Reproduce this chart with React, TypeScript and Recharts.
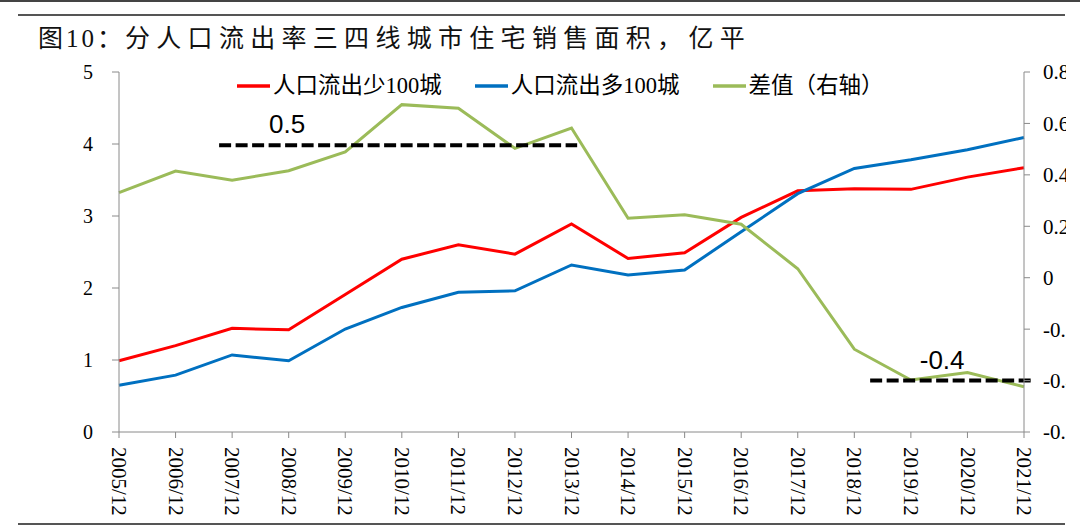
import React from 'react';
import { LineChart, Line, XAxis, YAxis, ReferenceLine, Legend } from 'recharts';

const categories = [
  '2005/12', '2006/12', '2007/12', '2008/12', '2009/12', '2010/12', '2011/12', '2012/12', '2013/12',
  '2014/12', '2015/12', '2016/12', '2017/12', '2018/12', '2019/12', '2020/12', '2021/12',
];
const lowOutflow = [0.99, 1.2, 1.44, 1.42, 1.91, 2.4, 2.6, 2.47, 2.89, 2.41, 2.49, 2.98, 3.35, 3.38, 3.37, 3.54, 3.67];
const highOutflow = [0.65, 0.79, 1.07, 0.99, 1.43, 1.73, 1.94, 1.96, 2.32, 2.18, 2.25, 2.78, 3.31, 3.66, 3.78, 3.92, 4.09];
const diffValues = [0.331, 0.415, 0.379, 0.416, 0.489, 0.673, 0.659, 0.503, 0.582, 0.231, 0.245, 0.208, 0.035, -0.278, -0.398, -0.369, -0.424];

const seriesNames = ['人口流出少100城', '人口流出多100城', '差值（右轴）'];
const seriesColors = ['#FF0000', '#0070C0', '#9BBB59'];

const leftTicks = [0, 1, 2, 3, 4, 5];
const rightTicks = [-0.6, -0.4, -0.2, 0, 0.2, 0.4, 0.6, 0.8];
const xTicks = categories.map((_, i) => i);

const guideHigh = { from: 1.77, to: 8.1, value: 0.515, label: '0.5' };
const guideLow = { from: 13.28, to: 16.12, value: -0.4, label: '-0.4' };

const title1 = '图10：';
const title2 = '分人口流出率三四线城市住宅销售面积，亿平';

const data = categories.map((c, i) => ({
  idx: i,
  cat: c,
  low: lowOutflow[i],
  high: highOutflow[i],
  diff: diffValues[i],
}));

const SERIF = '"Liberation Serif", "Times New Roman", serif';
const MIXED = '"Liberation Serif", "Noto Sans CJK SC", serif';
const AXIS = '#8a8a8a';

const XTick = (props: any) => {
  const { x, y, payload } = props;
  return (
    <text
      transform={`translate(${x},${y}) rotate(90)`}
      dy="0.33em"
      textAnchor="start"
      fontSize={21}
      fontFamily={SERIF}
      fill="#000"
    >
      {categories[payload.value]}
    </text>
  );
};

const makeGuideLabel = (text: string, ox: number, oy: number) => (props: any) => {
  const vb = props.viewBox || { x: 0, y: 0 };
  return (
    <text
      x={vb.x + ox}
      y={vb.y + oy}
      textAnchor="middle"
      dominantBaseline="central"
      fontFamily='"Liberation Sans", Arial, sans-serif'
      fontSize={26}
      fill="#000"
    >
      {text}
    </text>
  );
};

const LegendContent = (props: any) => {
  const payload = [...(props.payload || [])].sort(
    (a: any, b: any) => seriesNames.indexOf(a.value) - seriesNames.indexOf(b.value)
  );
  return (
    <div
      style={{
        display: 'flex',
        alignItems: 'center',
        fontFamily: MIXED,
        fontSize: 22.5,
        lineHeight: '30px',
        whiteSpace: 'nowrap',
        color: '#000',
      }}
    >
      {payload.map((p: any, i: number) => (
        <div key={i} style={{ display: 'flex', alignItems: 'center', marginRight: 33 }}>
          <svg width={33} height={4} style={{ display: 'block' }}>
            <line x1={0} y1={2} x2={33} y2={2} stroke={p.color} strokeWidth={3.5} />
          </svg>
          <span style={{ marginLeft: 3 }}>{p.value}</span>
        </div>
      ))}
    </div>
  );
};

export default function App() {
  return (
    <div style={{ position: 'absolute', left: 0, top: 0, width: 1080, height: 527, overflow: 'hidden', background: '#fff' }}>
      <LineChart width={1080} height={527} data={data} margin={{ top: 72, right: 0, bottom: 0, left: 0 }}>
        <XAxis
          type="number"
          dataKey="idx"
          domain={[0, 16]}
          ticks={xTicks}
          interval={0}
          height={95}
          stroke={AXIS}
          tickSize={6}
          tickMargin={9}
          tick={<XTick />}
        />
        <YAxis
          yAxisId="left"
          domain={[0, 5]}
          ticks={leftTicks}
          width={119}
          stroke={AXIS}
          tickSize={7}
          tickMargin={19}
          tick={{ fontSize: 20, fontFamily: SERIF, fill: '#000' }}
        />
        <YAxis
          yAxisId="right"
          orientation="right"
          domain={[-0.6, 0.8]}
          ticks={rightTicks}
          width={56}
          stroke={AXIS}
          tickSize={6}
          tickMargin={13}
          tickFormatter={(v: number) => (v === 0 ? '0' : v.toFixed(1))}
          tick={{ fontSize: 21, fontFamily: SERIF, fill: '#000', textAnchor: 'start' }}
        />
        <Legend
          verticalAlign="middle"
          align="center"
          layout="horizontal"
          wrapperStyle={{ top: 71, left: 237, width: 'auto', height: 30 }}
          content={LegendContent}
        />
        <Line yAxisId="left" dataKey="low" name={seriesNames[0]} stroke={seriesColors[0]} strokeWidth={3} dot={false} isAnimationActive={false} />
        <Line yAxisId="left" dataKey="high" name={seriesNames[1]} stroke={seriesColors[1]} strokeWidth={3} dot={false} isAnimationActive={false} />
        <Line yAxisId="right" dataKey="diff" name={seriesNames[2]} stroke={seriesColors[2]} strokeWidth={3} dot={false} isAnimationActive={false} />
        <ReferenceLine
          yAxisId="right"
          segment={[{ x: guideHigh.from, y: guideHigh.value }, { x: guideHigh.to, y: guideHigh.value }]}
          stroke="#000"
          strokeWidth={4}
          strokeDasharray="12 4.5"
          ifOverflow="visible"
          label={makeGuideLabel(guideHigh.label, 68, -21)}
        />
        <ReferenceLine
          yAxisId="right"
          segment={[{ x: guideLow.from, y: guideLow.value }, { x: guideLow.to, y: guideLow.value }]}
          stroke="#000"
          strokeWidth={4}
          strokeDasharray="12 4.5"
          ifOverflow="visible"
          label={makeGuideLabel(guideLow.label, 72, -21)}
        />
      </LineChart>
      <svg
        width={1080}
        height={527}
        style={{ position: 'absolute', left: 0, top: 0, pointerEvents: 'none' }}
      >
        <rect x={1066} y={0} width={14} height={527} fill="#fff" />
        <rect x={0} y={0} width={1080} height={2} fill="#444" />
        <line x1={18} y1={15} x2={1065} y2={15} stroke="#555" strokeWidth={2} />
        <line x1={18} y1={524} x2={1065} y2={524} stroke="#555" strokeWidth={2} />
        <text x={38} y={38} dominantBaseline="central" fontFamily={MIXED} fontSize={25} letterSpacing={3} fill="#111">
          {title1}
        </text>
        <text x={125} y={38} dominantBaseline="central" fontFamily={MIXED} fontSize={25} letterSpacing={6.3} fill="#111">
          {title2}
        </text>
      </svg>
    </div>
  );
}
